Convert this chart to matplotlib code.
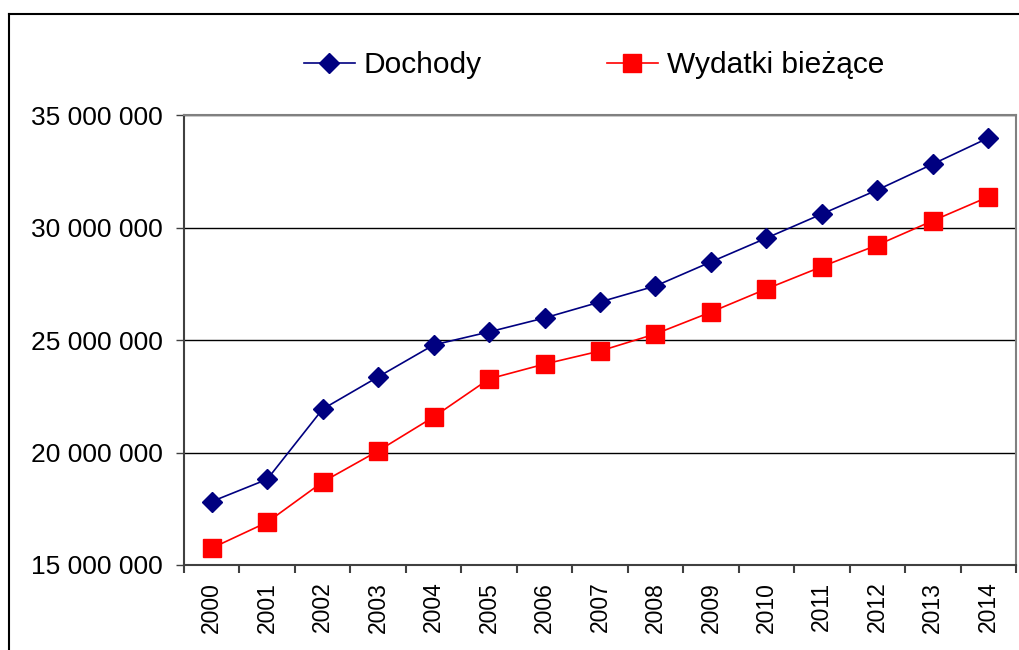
import matplotlib.pyplot as plt
from matplotlib.ticker import FuncFormatter, FixedLocator
from matplotlib.lines import Line2D

plt.rcParams['font.family'] = ['Liberation Sans', 'DejaVu Sans']

years = [str(y) for y in range(2000, 2015)]
dochody = [17.82, 18.81, 21.93, 23.36, 24.78, 25.36, 25.98, 26.69, 27.40,
           28.47, 29.53, 30.60, 31.67, 32.82, 33.98]
wydatki = [15.75, 16.90, 18.69, 20.07, 21.58, 23.27, 23.93, 24.51, 25.27,
           26.24, 27.27, 28.26, 29.22, 30.30, 31.36]
dochody = [v * 1e6 for v in dochody]
wydatki = [v * 1e6 for v in wydatki]

fig = plt.figure(figsize=(10.2, 6.5), dpi=100)
ax = fig.add_axes([184 / 1020, 1 - 565 / 650, 832 / 1020, 450 / 650])

x = list(range(len(years)))
ax.plot(x, dochody, color='#000080', lw=1.2, marker='D', ms=10,
        mec='#000080', mfc='#000080', label='Dochody')
ax.plot(x, wydatki, color='#FF0000', lw=1.2, marker='s', ms=12.5,
        mec='#FF0000', mfc='#FF0000', label='Wydatki bieżące')

ax.set_xlim(-0.5, len(years) - 0.5)
ax.set_ylim(15e6, 35e6)
ax.set_yticks([15e6, 20e6, 25e6, 30e6, 35e6])
ax.yaxis.set_major_formatter(FuncFormatter(lambda v, p: f"{int(v):,}".replace(",", " ")))
ax.grid(axis='y', color='black', lw=1)
ax.set_axisbelow(True)

# category labels centred, ticks on the boundaries
ax.set_xticks(x)
ax.set_xticklabels(years, rotation=90)
ax.tick_params(axis='x', which='major', length=0, pad=12, labelsize=16.5)
ax.xaxis.set_minor_locator(FixedLocator([i - 0.5 for i in range(len(years) + 1)]))
ax.tick_params(axis='x', which='minor', length=6, width=1.5, color='#404040')
ax.tick_params(axis='y', length=6, width=1, color='#404040', pad=9, labelsize=19)

for s in ['top', 'right']:
    ax.spines[s].set_color('#808080')
    ax.spines[s].set_linewidth(1.5)
for s in ['left', 'bottom']:
    ax.spines[s].set_color('#404040')
    ax.spines[s].set_linewidth(1.5)

ax.legend(loc='center', bbox_to_anchor=(0.5 - 6 / 832, 1 + 50 / 450), ncol=2,
          frameon=False, fontsize=21.5, handlelength=1.7, handletextpad=0.3,
          columnspacing=4.2)

# outer chart border
fig.add_artist(Line2D([9 / 1020, 1], [1 - 14 / 650] * 2, color='black', lw=1.5,
                      transform=fig.transFigure))
fig.add_artist(Line2D([9 / 1020] * 2, [0, 1 - 14 / 650], color='black', lw=1.5,
                      transform=fig.transFigure))

fig.savefig('out.png', dpi=100)
